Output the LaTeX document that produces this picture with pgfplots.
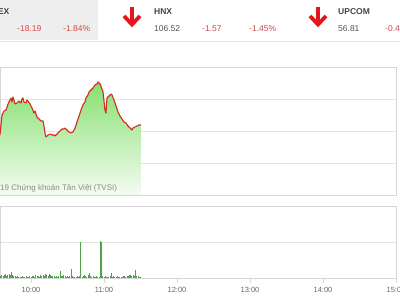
\documentclass[border=0pt]{standalone}
\usepackage{fontspec}
\setmainfont{Liberation Sans}
\usepackage{pgfplots}
\pgfplotsset{compat=1.18}
\definecolor{gridc}{HTML}{E4E4E4}
\definecolor{boxc}{HTML}{D6D6D6}
\definecolor{redl}{HTML}{D42A1E}
\definecolor{chg}{HTML}{D0494A}
\definecolor{arrowred}{HTML}{E8141B}
\definecolor{fillTop}{RGB}{134,224,112}
\definecolor{fillBot}{RGB}{244,252,242}
\definecolor{volg}{HTML}{4FA24A}
\definecolor{tickc}{HTML}{666666}
\definecolor{labc}{HTML}{444444}
\definecolor{valc}{HTML}{555555}
\definecolor{topbg}{HTML}{EEEEEE}
\definecolor{wmc}{HTML}{8A8A8A}

\pgfplotstableread{
m v
34.5 60
35.3 70
36.2 80
37.8 84
39.5 85
41.1 91
42.7 95
43.6 97
44.4 93
45.2 98
46.0 95
46.8 91
48.5 92
50.1 94
51.8 92
52.6 96
53.4 97
54.2 93
55.9 92
56.7 95
57.5 94
59.2 91
60.8 87
62.5 82
63.3 84
64.9 78
66.6 76
68.2 74
69.9 74
70.7 69
71.5 62
72.3 58
73.2 59
74.0 60
75.6 61
77.3 60
78.9 60
79.7 59
81.4 61
83.8 64
85.5 66
87.1 66
87.9 67
89.6 65
91.2 63
92.9 62
94.5 63
96.2 67
97.8 73
99.5 79
101.1 85
102.7 90
104.4 93
105.2 97
106.8 100
107.7 103
109.3 105
111.0 107
112.6 110
114.2 111
115.1 113
116.7 111
117.5 109
119.2 103
120.8 85
121.6 82
122.5 97
124.1 99
125.8 101
126.6 100
128.2 95
129.9 89
131.5 83
133.2 79
134.8 76
136.4 73
138.1 72
139.7 69
141.4 67
143.0 65
143.8 67
145.5 68
147.1 69
148.8 70
150.4 70
}\pricetab

\pgfplotstableread{
m v
35 2
36 3
37 2
38 3
39 4
40 2
41 3
42 4
43 3
44 6
45 3
46 2
47 2
48 1
49 2
50 1
51 1
52 1
53 2
54 1
55 1
56 2
57 1
58 1
59 2
60 1
61 2
62 2
63 1
64 3
65 2
66 2
67 1
68 3
69 2
70 3
71 2
72 4
73 3
74 2
75 4
76 3
77 2
78 2
79 2
80 1
81 2
82 1
83 2
84 7
85 2
86 2
87 3
88 2
89 1
90 2
91 1
92 2
93 9
94 2
95 1
96 1
97 1
98 2
99 1
100 2
101 36
102 1
103 2
104 3
105 2
106 1
107 3
108 5
109 2
110 1
111 2
112 1
113 1
114 2
115 1
116 1
117 37
118 36
119 2
120 1
121 2
122 1
123 1
124 1
125 2
126 5
127 1
128 2
129 1
130 1
131 2
132 1
133 1
134 1
135 1
136 2
137 2
138 1
139 2
140 2
141 3
142 3
143 2
144 3
145 2
146 8
147 2
148 2
149 1
150 1
}\voltab

\begin{document}
\begin{tikzpicture}[x=1pt,y=1pt]
\fill[white] (0,0) rectangle (400,300);
\begin{scope}[yshift=22pt]
\begin{axis}[at={(0pt,0pt)}, anchor=south west, scale only axis,
  width=396pt, height=72pt,
  xmin=34.52, xmax=360, ymin=0, ymax=72,
  axis line style={boxc, line width=0.8pt},
  ymajorgrids, grid style={gridc, line width=0.8pt},
  ytick={36}, yticklabels={},
  xtick={60,120,180,240,300,360},
  xticklabels={10:00,11:00,12:00,13:00,14:00,15:00},
  tick pos=bottom, tick align=outside,
  major tick length=5pt, xtick style={boxc, line width=0.8pt},
  ytick style={draw=none},
  xticklabel style={text=tickc, font=\fontsize{7.5}{9}\selectfont, inner sep=1pt, yshift=-3.5pt}]
\addplot[ycomb, volg, line width=1pt] table[x=m,y=v]{\voltab};
\end{axis}
\end{scope}
\fill[topbg] (0,260) rectangle (98,300);
\draw[gridc, line width=0.8pt] (0,259) -- (400,259);
% arrows
\foreach \cx in {132,318} {
  \draw[arrowred, line width=3.8pt] (\cx,293) -- (\cx,277);
  \draw[arrowred, line width=3.8pt, line join=miter] (\cx-8,284) -- (\cx,275.5) -- (\cx+8,284);
}
\begin{scope}[every node/.style={inner sep=0pt, font=\fontsize{8.5}{10}\selectfont}]
\node[anchor=east, text=labc, font=\bfseries\fontsize{8.5}{10}\selectfont] at (9.5,288.5) {VN-INDEX};
\node[anchor=west, text=chg] at (17,271.5) {-18.19};
\node[anchor=west, text=chg] at (63,271.5) {-1.84\%};
\node[anchor=west, text=labc, font=\bfseries\fontsize{8.5}{10}\selectfont] at (154,288.5) {HNX};
\node[anchor=west, text=valc] at (154,271.5) {106.52};
\node[anchor=west, text=chg] at (202,271.5) {-1.57};
\node[anchor=west, text=chg] at (249,271.5) {-1.45\%};
\node[anchor=west, text=labc, font=\bfseries\fontsize{8.5}{10}\selectfont] at (338,288.5) {UPCOM};
\node[anchor=west, text=valc] at (338,271.5) {56.81};
\node[anchor=west, text=chg] at (385,271.5) {-0.4};
\end{scope}

\begin{axis}[at={(0,105)}, anchor=south west, scale only axis,
  width=396pt, height=128pt,
  xmin=34.52, xmax=360, ymin=0, ymax=128,
  axis line style={boxc, line width=0.8pt},
  ymajorgrids, grid style={gridc, line width=0.8pt},
  ytick={32,64,96}, yticklabels={}, xtick=\empty,
  major tick length=0pt]
\addplot[draw=none, top color=fillTop, bottom color=fillBot] table[x=m,y=v]{\pricetab} \closedcycle;
\addplot[redl, line width=1.1pt, line join=round] table[x=m,y=v]{\pricetab};
\end{axis}
\node[anchor=west, inner sep=0pt, text=wmc, font=\fontsize{8}{10}\selectfont] at (0,112) {19 Chứng khoán Tân Việt (TVSI)};
\pgfresetboundingbox
\path[use as bounding box] (0,0) rectangle (400,300);
\end{tikzpicture}
\end{document}
